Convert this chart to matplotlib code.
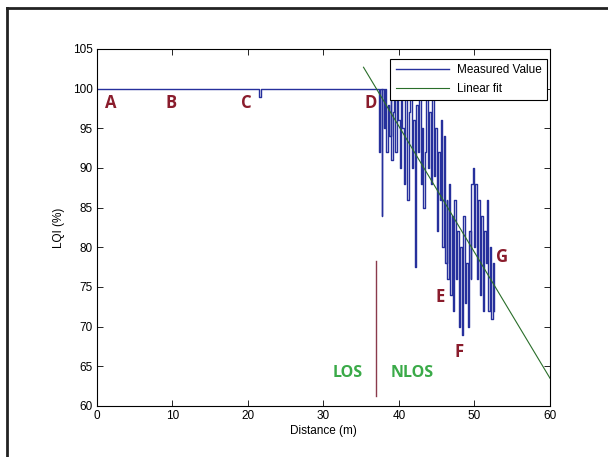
import matplotlib
matplotlib.use("Agg")
import matplotlib.pyplot as plt
from matplotlib.lines import Line2D

plt.rcParams['font.family'] = ['Liberation Sans', 'DejaVu Sans']

# measured LQI along the walk: flat LOS part, then the noisy NLOS part
dist_m = [0, 21.4, 21.5, 21.6, 21.7, 37.0,
          37.2, 37.3, 37.5, 37.7, 37.8, 38.0, 38.2, 38.3, 38.5, 38.7, 38.9,
          39.0, 39.2, 39.4, 39.5, 39.7, 39.9, 40.1, 40.3, 40.4, 40.6, 40.8,
          41.0, 41.1, 41.3, 41.5, 41.7, 41.9, 42.1, 42.3, 42.5, 42.7, 42.9,
          43.1, 43.2, 43.4, 43.6, 43.8, 44.0, 44.2, 44.4, 44.6, 44.8, 45.0,
          45.2, 45.4, 45.5, 45.7, 45.9, 46.1, 46.3, 46.4, 46.6, 46.8, 47.0,
          47.1, 47.3, 47.5, 47.7, 47.9, 48.1, 48.3, 48.5, 48.7, 48.9, 49.1,
          49.3, 49.5, 49.6, 49.8, 50.0, 50.1, 50.3, 50.5, 50.7, 50.9, 51.1,
          51.3, 51.5, 51.7, 51.8, 52.0, 52.2, 52.4, 52.6]
lqi_pct = [100, 100, 99, 99, 100, 100,
           100, 92, 100, 84, 100, 95, 100, 92, 98, 94, 100,
           91, 97, 100, 92, 100, 96, 90, 100, 95, 88, 100,
           94, 86, 97, 100, 90, 96, 77.5, 98, 92, 100, 88,
           95, 85, 92, 100, 90, 97, 88, 100, 89, 95, 82,
           92, 86, 96, 80, 94, 78, 86, 76, 88, 74, 84,
           72, 86, 76, 82, 70, 80, 69, 84, 73, 78, 70,
           82, 76, 88, 90, 80, 88, 76, 86, 74, 84, 72,
           82, 78, 86, 72, 80, 71, 78, 72]

# linear fit end points
fit_x = [35.3, 60.0]
fit_y = [102.7, 63.5]

point_labels = ['A', 'B', 'C', 'D', 'E', 'F', 'G']
point_x = [1.8, 9.8, 19.8, 36.3, 45.4, 48.0, 53.6]
point_y = [98.2, 98.2, 98.2, 98.2, 73.7, 66.8, 78.8]

fig = plt.figure(figsize=(6.08, 4.57), dpi=100)
ax = fig.add_axes([0.1595, 0.1116, 0.7451, 0.7812])

ax.plot(dist_m, lqi_pct, color='#26309c', linewidth=1.0,
        drawstyle='steps-post', label='Measured Value')
ax.plot(fit_x, fit_y, color='#2a6e2a', linewidth=0.8, label='Linear fit')

ax.set_xlim(0, 60)
ax.set_ylim(60, 105)
ax.set_xticks(range(0, 61, 10))
ax.set_yticks(range(60, 106, 5))
ax.tick_params(direction='in', top=True, right=True, length=4, width=0.6,
               labelsize=8.5, pad=3)
for s in ax.spines.values():
    s.set_linewidth(0.8)

ax.set_xlabel('Distance (m)', fontsize=8.5, labelpad=2)
ax.set_ylabel('LQI (%)', fontsize=8.5, labelpad=6)

for lab, px, py in zip(point_labels, point_x, point_y):
    ax.text(px, py, lab, color='#8a1c2c', fontsize=12, fontweight='bold',
            ha='center', va='center', family=['Open Sans', 'DejaVu Sans'])

# LOS / NLOS boundary
ax.plot([37.0, 37.0], [61.2, 78.3], color='#8a3a4c', linewidth=1.0)
ax.text(33.2, 64.1, 'LOS', color='#3aaa48', fontsize=11.5, fontweight='bold',
        ha='center', va='center', family=['Open Sans', 'DejaVu Sans'])
ax.text(41.8, 64.1, 'NLOS', color='#3aaa48', fontsize=11.5, fontweight='bold',
        ha='center', va='center', family=['Open Sans', 'DejaVu Sans'])

handles = [Line2D([], [], color='#26309c', linewidth=1.0),
           Line2D([], [], color='#2a6e2a', linewidth=0.8)]
leg = ax.legend(handles, ['Measured Value', 'Linear fit'], loc='upper right',
                bbox_to_anchor=(0.9935, 0.972), fontsize=8.5, fancybox=False,
                framealpha=1, edgecolor='black', borderaxespad=0.0,
                handlelength=4.5, borderpad=0.45, labelspacing=0.55,
                handletextpad=0.7)
leg.get_frame().set_linewidth(0.8)

# outer frame on top and left
fig.add_artist(Line2D([0.011, 1.0], [0.982, 0.982], color='#222222',
                      linewidth=2.0, transform=fig.transFigure))
fig.add_artist(Line2D([0.011, 0.011], [0.0, 0.982], color='#222222',
                      linewidth=2.0, transform=fig.transFigure))

fig.savefig('out.png', dpi=100)
